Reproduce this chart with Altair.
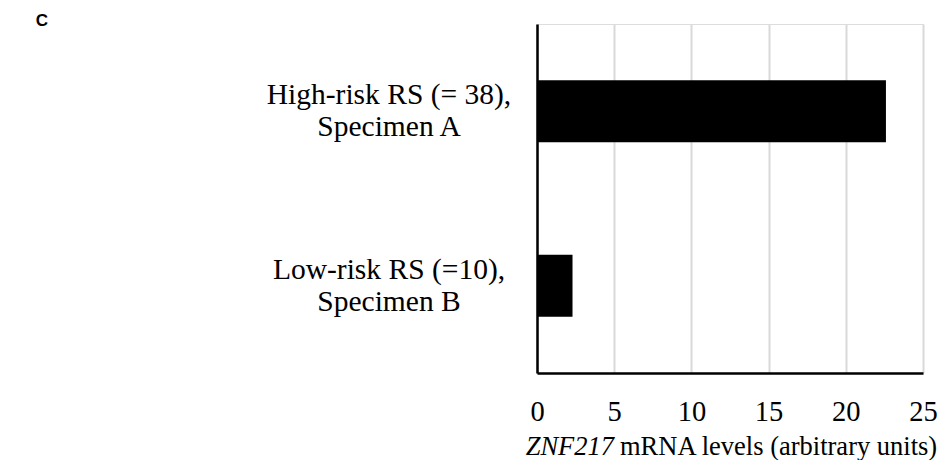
import altair as alt
import pandas as pd

# ---- data ----
categories = ["High-risk RS (= 38),|Specimen A", "Low-risk RS (=10),|Specimen B"]
values = [22.6, 2.3]
x_ticks = [0, 5, 10, 15, 20, 25]
x_domain = [0, 25]
title_italic = ["ZNF217"]
title_rest = ["mRNA levels (arbitrary units)"]
panel_label = ["C"]

df = pd.DataFrame({"category": categories, "value": values})
df_title = pd.DataFrame({"italic": title_italic, "rest": title_rest})
df_panel = pd.DataFrame({"label": panel_label})

SERIF = "Liberation Serif"

yscale = alt.Scale(domain=categories, paddingInner=0.645, paddingOuter=0.3225)

bars = alt.Chart(df).mark_bar(color="#000000").encode(
    x=alt.X(
        "value:Q",
        scale=alt.Scale(domain=x_domain, nice=False),
        axis=alt.Axis(
            values=x_ticks, title=None, grid=True, gridColor="#d9d9d9", gridWidth=2,
            domainColor="#000000", domainWidth=2.5, ticks=False, tickSize=0,
            labelPadding=24, labelFont=SERIF, labelFontSize=28.5, labelColor="#000000",
            labelAngle=0, labelFlush=False,
        ),
    ),
    y=alt.Y(
        "category:N", scale=yscale, sort=categories,
        axis=alt.Axis(labels=False, ticks=False, tickSize=0, title=None,
                      domainColor="#000000", domainWidth=2.5, grid=False),
    ),
)

cat_labels = alt.Chart(df).mark_text(
    font=SERIF, fontSize=29.5, lineBreak="|", lineHeight=32, dy=-16,
    align="center", baseline="middle", color="#000000",
).encode(
    y=alt.Y("category:N", scale=yscale, sort=categories),
    x=alt.value(-148),
    text="category:N",
)

title_a = alt.Chart(df_title).mark_text(
    font=SERIF, fontSize=26.5, fontStyle="italic", align="right",
    baseline="alphabetic", color="#000000",
).encode(x=alt.value(77), y=alt.value(431), text="italic:N")

title_b = alt.Chart(df_title).mark_text(
    font=SERIF, fontSize=26.5, align="left",
    baseline="alphabetic", color="#000000",
).encode(x=alt.value(83), y=alt.value(431), text="rest:N")

panel = alt.Chart(df_panel).mark_text(
    font="Liberation Sans", fontSize=17, fontWeight="bold",
    align="center", baseline="middle", color="#000000",
).encode(x=alt.value(-495), y=alt.value(-3), text="label:N")

chart = alt.layer(bars, cat_labels, title_a, title_b, panel).properties(
    width=386, height=349,
    autosize=alt.AutoSizeParams(type="none"),
    padding={"left": 529, "top": 16, "right": 15, "bottom": 87},
).configure_view(stroke=None).configure(background="white")

chart.save("out.html", embed_options={"renderer": "svg", "actions": False})
